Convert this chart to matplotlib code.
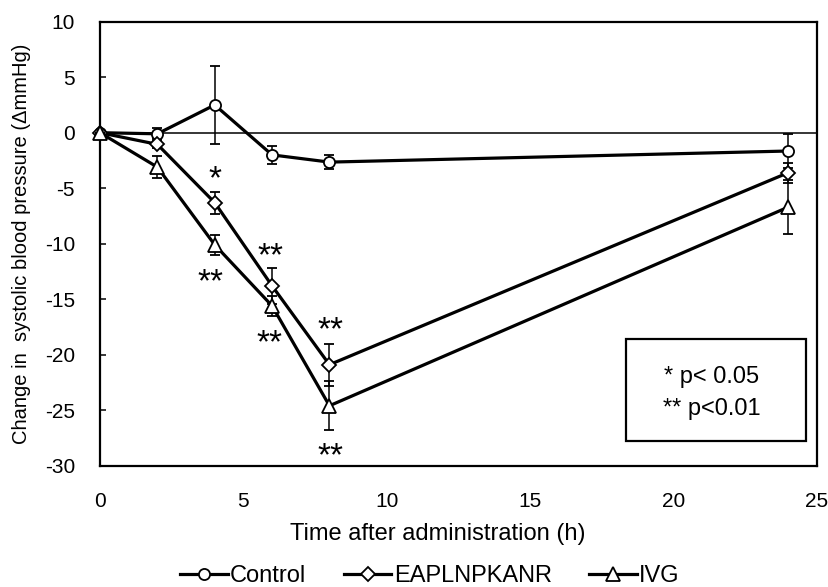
import matplotlib
matplotlib.use("Agg")
import matplotlib.pyplot as plt
from matplotlib.patches import Rectangle

plt.rcParams['font.family'] = ['Liberation Sans', 'DejaVu Sans']
plt.rcParams['axes.unicode_minus'] = False

# ---- data ----
time_h = [0, 2, 4, 6, 8, 24]
control = [0, -0.1, 2.5, -2.0, -2.65, -1.65]
control_err = [0, 0.5, 3.5, 0.8, 0.6, 1.5]
eaplnpkanr = [0, -1.05, -6.3, -13.8, -20.9, -3.6]
eaplnpkanr_err = [0, 0.3, 1.0, 1.6, 1.9, 0.9]
ivg = [0, -3.1, -10.1, -15.6, -24.6, -6.7]
ivg_err = [0, 1.0, 0.9, 0.9, 2.2, 2.4]

series_names = ["Control", "EAPLNPKANR", "IVG"]

# significance marks: (x, y-centre of glyph, text)
sig_x = [4.0, 3.84, 5.95, 5.9, 8.04, 8.04]
sig_y = [-3.65, -13.0, -10.6, -18.5, -17.3, -28.6]
sig_txt = ["*", "**", "**", "**", "**", "**"]

xticks = [0, 5, 10, 15, 20, 25]
yticks = [10, 5, 0, -5, -10, -15, -20, -25, -30]

W, H = 829, 587
fig = plt.figure(figsize=(W / 100, H / 100), dpi=100)
ax_l, ax_r, ax_t, ax_b = 100, 817, 21.7, 465.7
ax = fig.add_axes([ax_l / W, 1 - ax_b / H, (ax_r - ax_l) / W, (ax_b - ax_t) / H])

ax.axhline(0, color='black', lw=1.1, zorder=1)

common = dict(color='black', lw=2.3, mfc='white', mec='black', mew=1.3,
              ecolor='black', elinewidth=1.1, capsize=3.6, capthick=1.1)
markers = ['o', 'D', '^']
msizes = [8, 7.5, 10]
for vals, errs, name, mk, ms, z in zip([control, eaplnpkanr, ivg],
                                      [control_err, eaplnpkanr_err, ivg_err],
                                      series_names, markers, msizes, [3, 4, 5]):
    cont = ax.errorbar(time_h, vals, yerr=errs, marker=mk, ms=ms, label=name,
                       zorder=z, **common)
    for art in cont.get_children():
        art.set_clip_on(False)

ax.set_xlim(0, 25)
ax.set_ylim(-30, 10)
ax.set_xticks(xticks)
ax.set_yticks(yticks)
ax.tick_params(axis='y', direction='in', length=4.5, width=1.1, pad=18, labelsize=15)
ax.tick_params(axis='x', length=0, pad=19, labelsize=15)
for s in ax.spines.values():
    s.set_linewidth(1.6)

ax.set_xlabel("Time after administration (h)", fontsize=17)
ax.xaxis.label.set_va('baseline')
ax.xaxis.set_label_coords((438 - ax_l) / (ax_r - ax_l), -(540 - ax_b) / (ax_b - ax_t))
ax.set_ylabel("Change in  systolic blood pressure (ΔmmHg)", fontsize=14.5)
ax.yaxis.label.set_va('baseline')
ax.yaxis.set_label_coords(-(ax_l - 27) / (ax_r - ax_l), 0.5)

# significance asterisks
for x, y, t in zip(sig_x, sig_y, sig_txt):
    ax.annotate(t, xy=(x, y), xytext=(0, -0.44 * 24), textcoords='offset points',
                ha='center', va='baseline', fontsize=24, zorder=6)

# p-value box
bx0, bx1, by0, by1 = 626, 806, 339, 441
ax.add_patch(Rectangle(((bx0 - ax_l) / (ax_r - ax_l), (ax_b - by1) / (ax_b - ax_t)),
                       (bx1 - bx0) / (ax_r - ax_l), (by1 - by0) / (ax_b - ax_t),
                       transform=ax.transAxes, fill=False, lw=1.6, ec='black', zorder=6))
cx = (712 - ax_l) / (ax_r - ax_l)
ax.text(cx, (ax_b - 383) / (ax_b - ax_t), "* p< 0.05", transform=ax.transAxes,
        ha='center', va='baseline', fontsize=17)
ax.text(cx, (ax_b - 415) / (ax_b - ax_t), "** p<0.01", transform=ax.transAxes,
        ha='center', va='baseline', fontsize=17)

# legend
handles = []
for mk, ms in zip(markers, msizes):
    handles.append(plt.Line2D([], [], color='black', lw=2.3, marker=mk, ms=ms,
                              mfc='white', mec='black', mew=1.3))
fig.legend(handles, series_names, loc='center', bbox_to_anchor=(430 / W, 1 - 576 / H),
           ncol=3, frameon=False, fontsize=17, handlelength=2.0, handletextpad=0.1,
           columnspacing=1.6, borderaxespad=0, borderpad=0)

fig.savefig("out.png", dpi=100)
